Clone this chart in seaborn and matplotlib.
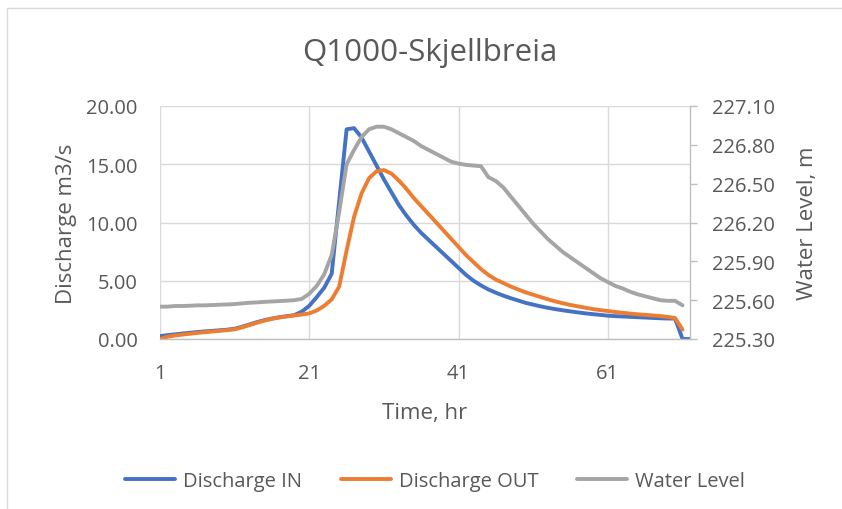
import numpy as np
import pandas as pd
import matplotlib
matplotlib.use("Agg")
import matplotlib.pyplot as plt
import seaborn as sns
from matplotlib.lines import Line2D
from matplotlib.ticker import FormatStrFormatter

title = "Q1000-Skjellbreia"
hours_in = list(range(1, 73))
hours_out = list(range(1, 72))
hours_wl = list(range(1, 72))

discharge_in = [0.25, 0.33, 0.40, 0.47, 0.53, 0.60, 0.65, 0.70, 0.75, 0.80,
                0.88, 1.05, 1.25, 1.45, 1.62, 1.76, 1.87, 1.96, 2.05, 2.35,
                2.85, 3.60, 4.40, 5.60, 11.8, 18.0, 18.1, 17.3, 16.1, 14.9,
                13.7, 12.6, 11.5, 10.6, 9.8, 9.1, 8.5, 7.9, 7.3, 6.7,
                6.1, 5.5, 5.0, 4.6, 4.25, 3.97, 3.72, 3.5, 3.3, 3.1,
                2.95, 2.8, 2.67, 2.56, 2.46, 2.37, 2.28, 2.2, 2.13, 2.07,
                2.0, 1.96, 1.93, 1.9, 1.87, 1.84, 1.81, 1.78, 1.76, 1.75,
                0.0, 0.0]

discharge_out = [0.0, 0.2, 0.3, 0.38, 0.45, 0.52, 0.58, 0.64, 0.70, 0.76,
                 0.83, 1.0, 1.2, 1.4, 1.58, 1.73, 1.85, 1.94, 2.02, 2.10,
                 2.20, 2.45, 2.85, 3.40, 4.5, 7.6, 10.5, 12.5, 13.8, 14.4,
                 14.5, 14.2, 13.6, 12.9, 12.1, 11.4, 10.7, 10.0, 9.3, 8.6,
                 7.9, 7.2, 6.6, 6.0, 5.5, 5.1, 4.8, 4.5, 4.25, 4.0,
                 3.8, 3.6, 3.4, 3.22, 3.06, 2.92, 2.8, 2.68, 2.57, 2.48,
                 2.4, 2.32, 2.25, 2.18, 2.12, 2.07, 2.02, 1.97, 1.9, 1.8,
                 0.8]

water_level = [225.55, 225.55, 225.555, 225.555, 225.557, 225.56, 225.56, 225.562, 225.565, 225.567,
               225.57, 225.575, 225.58, 225.583, 225.587, 225.59, 225.593, 225.596, 225.60, 225.61,
               225.65, 225.71, 225.80, 225.95, 226.28, 226.65, 226.76, 226.86, 226.92, 226.94,
               226.94, 226.92, 226.89, 226.86, 226.83, 226.79, 226.76, 226.73, 226.70, 226.67,
               226.655, 226.645, 226.64, 226.635, 226.55, 226.52, 226.47, 226.40, 226.33, 226.26,
               226.19, 226.13, 226.07, 226.02, 225.97, 225.93, 225.89, 225.85, 225.81, 225.77,
               225.74, 225.71, 225.69, 225.665, 225.645, 225.63, 225.615, 225.60, 225.595, 225.595,
               225.56]

x_ticks = [1, 21, 41, 61]
left_ticks = [0, 5, 10, 15, 20]
right_ticks = [225.30, 225.60, 225.90, 226.20, 226.50, 226.80, 227.10]

df_in = pd.DataFrame({"Time": hours_in, "Q": discharge_in})
df_out = pd.DataFrame({"Time": hours_out, "Q": discharge_out})
df_wl = pd.DataFrame({"Time": hours_wl, "WL": water_level})

sns.set_theme(style="white")
plt.rcParams["font.family"] = ["Open Sans", "DejaVu Sans"]
TXT = "#595959"
GRID = "#D9D9D9"
AX = "#BFBFBF"
C_IN, C_OUT, C_WL = "#4472C4", "#ED7D31", "#A5A5A5"

fig = plt.figure(figsize=(8.42, 5.10), dpi=100)
fig.subplots_adjust(left=160/842, right=690/842, top=1-107/510, bottom=1-340/510)
ax = fig.add_subplot(111)
ax2 = ax.twinx()

lw = 2.8
sns.lineplot(data=df_in, x="Time", y="Q", ax=ax, color=C_IN, linewidth=lw, label="Discharge IN", legend=False)
sns.lineplot(data=df_out, x="Time", y="Q", ax=ax, color=C_OUT, linewidth=lw, label="Discharge OUT", legend=False)
sns.lineplot(data=df_wl, x="Time", y="WL", ax=ax2, color=C_WL, linewidth=lw, label="Water Level", legend=False)

ax.set_xlim(1, 72)
ax.set_ylim(0, 20)
ax2.set_ylim(225.30, 227.10)
ax.set_xticks(x_ticks)
ax.set_yticks(left_ticks)
ax2.set_yticks(right_ticks)
ax.yaxis.set_major_formatter(FormatStrFormatter("%.2f"))
ax2.yaxis.set_major_formatter(FormatStrFormatter("%.2f"))

ax.grid(True, color=GRID, linewidth=1.0)
ax.set_axisbelow(True)
for s in ["top", "left", "right"]:
    ax.spines[s].set_visible(False)
ax.spines["bottom"].set_color(AX)
ax.spines["bottom"].set_linewidth(1.0)
for s in ["top", "left", "bottom"]:
    ax2.spines[s].set_visible(False)
ax2.spines["right"].set_color(AX)
ax2.spines["right"].set_linewidth(1.0)

ax.tick_params(axis="x", length=0, pad=17, labelsize=14.5, labelcolor=TXT)
ax.tick_params(axis="y", length=0, pad=16, labelsize=14.5, labelcolor=TXT)
ax2.tick_params(axis="y", length=5, width=1.0, color=AX, pad=11, labelsize=14.5, labelcolor=TXT, direction="out")

ax.set_xlabel("Time, hr", fontsize=16, color=TXT, labelpad=14)
ax.set_ylabel("Discharge m3/s", fontsize=16, color=TXT, labelpad=7)
ax2.set_ylabel("Water Level, m", fontsize=16, color=TXT, labelpad=16)

fig.text(430/842, 1-53/510, title, ha="center", va="center", fontsize=22.5, color=TXT)

handles = [Line2D([0], [0], color=C_IN, lw=lw),
           Line2D([0], [0], color=C_OUT, lw=lw),
           Line2D([0], [0], color=C_WL, lw=lw)]
fig.legend(handles, ["Discharge IN", "Discharge OUT", "Water Level"], loc="center",
           bbox_to_anchor=(435/842, 1-482/510), ncol=3, frameon=False, fontsize=14.5,
           handlelength=2.5, handletextpad=0.4, columnspacing=1.9, labelcolor=TXT)

fig.add_artist(Line2D([7/842, 7/842], [0, 1-9/510], transform=fig.transFigure, color=GRID, lw=1.0))
fig.add_artist(Line2D([7/842, 1], [1-9/510, 1-9/510], transform=fig.transFigure, color=GRID, lw=1.0))

fig.savefig("out.png", dpi=100)
